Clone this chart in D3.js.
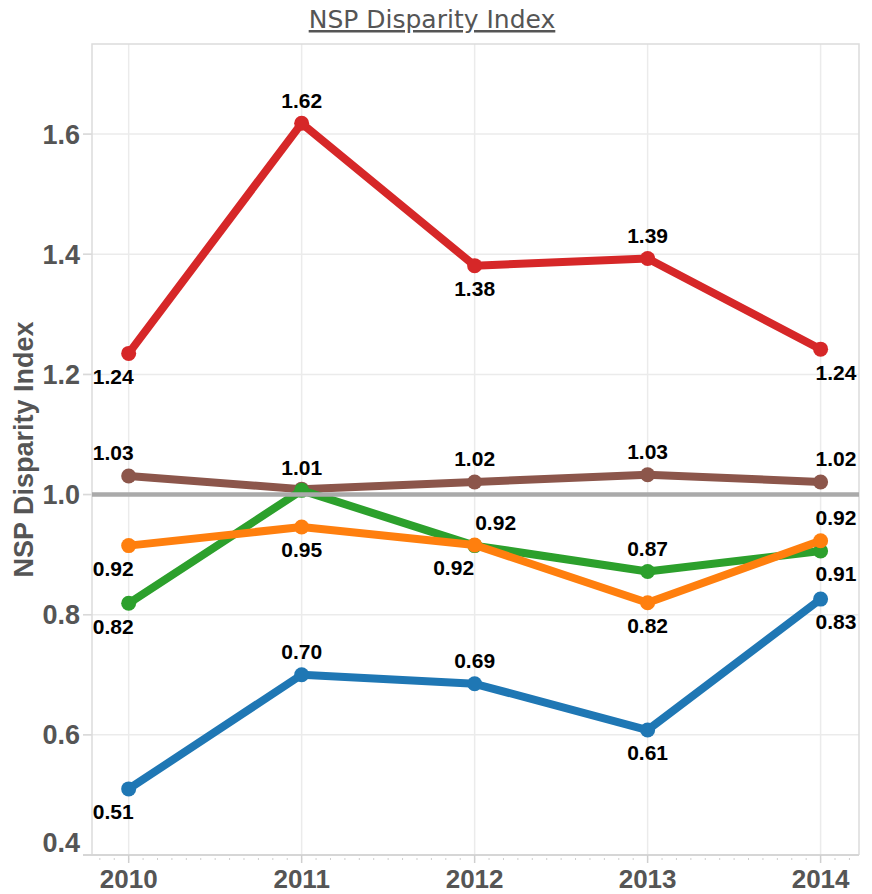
<!DOCTYPE html>
<meta charset="utf-8">
<script src="https://d3js.org/d3.v7.min.js"></script>
<style>
  body { margin: 0; background: #fff; }
</style>
<div id="my_dataviz"></div>
<script>

  // data
  const years = [2010, 2011, 2012, 2013, 2014];
  const redValues    = [1.235, 1.618, 1.381, 1.393, 1.242];
  const brownValues  = [1.031, 1.009, 1.021, 1.033, 1.021];
  const greenValues  = [0.819, 1.007, 0.915, 0.872, 0.906];
  const orangeValues = [0.915, 0.946, 0.916, 0.820, 0.923];
  const blueValues   = [0.510, 0.700, 0.685, 0.608, 0.826];
  const yTicks = [0.4, 0.6, 0.8, 1.0, 1.2, 1.4, 1.6];
  const refValue = 1.0;

  // label placement per point: "a" above, "b" below, "ar" above-right, "bl" below-left, "" hidden
  const series = [
    { values: redValues,    color: "#d62728", place: ["b", "a", "b", "a", "b"] },
    { values: brownValues,  color: "#8c564b", place: ["a", "", "a", "a", "a"] },
    { values: greenValues,  color: "#2ca02c", place: ["b", "a", "ar", "a", "b"] },
    { values: orangeValues, color: "#ff7f0e", place: ["b", "b", "bl", "b", "a"] },
    { values: blueValues,   color: "#1f77b4", place: ["b", "a", "a", "b", "b"] }
  ];

  const W = 872, H = 894;
  const pane = { left: 92, right: 859, top: 44, bottom: 855 };

  const svg = d3.select("#my_dataviz")
    .append("svg")
    .attr("width", W)
    .attr("height", H);

  const x = d3.scaleLinear()
    .domain([2010 - 0.212, 2014 + 0.222])
    .range([pane.left, pane.right]);

  const y = d3.scaleLinear()
    .domain([0.4, 1.75])
    .range([pane.bottom, pane.top]);

  // title
  svg.append("text")
    .attr("x", 432)
    .attr("y", 28)
    .attr("text-anchor", "middle")
    .style("font-family", "DejaVu Sans")
    .style("font-size", "25px")
    .style("fill", "#555")
    .style("text-decoration", "underline")
    .text("NSP Disparity Index");

  // grid
  svg.append("g")
    .selectAll("line")
    .data(yTicks)
    .join("line")
    .attr("x1", pane.left - 9)
    .attr("x2", pane.right)
    .attr("y1", d => y(d))
    .attr("y2", d => y(d))
    .attr("stroke", "#ebebeb")
    .attr("stroke-width", 1.5);

  svg.append("g")
    .selectAll("line")
    .data(years)
    .join("line")
    .attr("x1", d => x(d))
    .attr("x2", d => x(d))
    .attr("y1", pane.top)
    .attr("y2", pane.bottom)
    .attr("stroke", "#ebebeb")
    .attr("stroke-width", 1.5);

  // left tick marks
  svg.append("g")
    .selectAll("line")
    .data(yTicks)
    .join("line")
    .attr("x1", pane.left - 9)
    .attr("x2", pane.left)
    .attr("y1", d => y(d))
    .attr("y2", d => y(d))
    .attr("stroke", "#d9d9d9")
    .attr("stroke-width", 1.5);

  // frame
  svg.append("path")
    .attr("d", `M${pane.left},${pane.bottom}V${pane.top}H${pane.right}V${pane.bottom}`)
    .attr("fill", "none")
    .attr("stroke", "#dcdcdc")
    .attr("stroke-width", 1.5);
  svg.append("line")
    .attr("x1", pane.left - 9)
    .attr("x2", pane.right)
    .attr("y1", pane.bottom)
    .attr("y2", pane.bottom)
    .attr("stroke", "#d6d6d6")
    .attr("stroke-width", 2);

  // x ticks: months (minor) and years (major)
  const months = d3.range(Math.ceil(x.domain()[0] * 12), Math.floor(x.domain()[1] * 12) + 1).map(m => m / 12);
  svg.append("g")
    .selectAll("line")
    .data(months)
    .join("line")
    .attr("x1", d => x(d))
    .attr("x2", d => x(d))
    .attr("y1", pane.bottom + 3)
    .attr("y2", pane.bottom + 5)
    .attr("stroke", "#cfcfcf")
    .attr("stroke-width", 1);
  svg.append("g")
    .selectAll("line")
    .data(years)
    .join("line")
    .attr("x1", d => x(d))
    .attr("x2", d => x(d))
    .attr("y1", pane.bottom)
    .attr("y2", pane.bottom + 8)
    .attr("stroke", "#cfcfcf")
    .attr("stroke-width", 1.5);

  // axis labels
  svg.append("g")
    .selectAll("text")
    .data(years)
    .join("text")
    .attr("x", d => x(d))
    .attr("y", 888)
    .attr("text-anchor", "middle")
    .style("font-family", "Liberation Sans, Arial, sans-serif")
    .style("font-weight", "bold")
    .style("font-size", "26px")
    .style("fill", "#555")
    .text(d => d);

  svg.append("g")
    .selectAll("text")
    .data(yTicks)
    .join("text")
    .attr("x", 80)
    .attr("y", d => Math.min(y(d) + 9.5, pane.bottom - 3))
    .attr("text-anchor", "end")
    .style("font-family", "Liberation Sans, Arial, sans-serif")
    .style("font-weight", "bold")
    .style("font-size", "27px")
    .style("fill", "#555")
    .text(d => d.toFixed(1));

  svg.append("text")
    .attr("transform", `translate(33,${(pane.top + pane.bottom) / 2}) rotate(-90)`)
    .attr("text-anchor", "middle")
    .style("font-family", "Liberation Sans, Arial, sans-serif")
    .style("font-weight", "bold")
    .style("font-size", "27px")
    .style("fill", "#555")
    .text("NSP Disparity Index");

  // lines and points
  const line = d3.line()
    .x((d, i) => x(years[i]))
    .y(d => y(d));

  const g = svg.append("g");
  series.forEach(s => {
    g.append("path")
      .datum(s.values)
      .attr("fill", "none")
      .attr("stroke", s.color)
      .attr("stroke-width", 8)
      .attr("stroke-linejoin", "round")
      .attr("d", line);
    g.selectAll(null)
      .data(s.values)
      .join("circle")
      .attr("cx", (d, i) => x(years[i]))
      .attr("cy", d => y(d))
      .attr("r", 7.5)
      .attr("fill", s.color);
  });

  // reference line at 1.0
  svg.append("line")
    .attr("x1", pane.left)
    .attr("x2", pane.right)
    .attr("y1", y(refValue))
    .attr("y2", y(refValue))
    .attr("stroke", "#aaaaaa")
    .attr("stroke-width", 4.5);

  // labels
  const last = years.length - 1;
  const lab = svg.append("g");
  series.forEach(s => {
    s.values.forEach((v, i) => {
      const p = s.place[i];
      if (!p) return;
      let cx = x(years[i]);
      let anchor = "middle";
      const cy = y(v) + (p[0] === "a" ? -23 : 23);
      if (p === "ar") cx += 21;
      if (p === "bl") cx -= 21;
      // edge points: labels pushed outward toward the pane border
      if (i === 0) { anchor = "end"; cx += 5; }
      if (i === last) { anchor = "start"; cx -= 5; }
      lab.append("text")
        .attr("x", cx)
        .attr("y", cy)
        .attr("dy", "0.35em")
        .attr("text-anchor", anchor)
        .style("font-family", "Liberation Sans, Arial, sans-serif")
        .style("font-weight", "bold")
        .style("font-size", "21px")
        .style("fill", "#000")
        .text(v.toFixed(2));
    });
  });

</script>
